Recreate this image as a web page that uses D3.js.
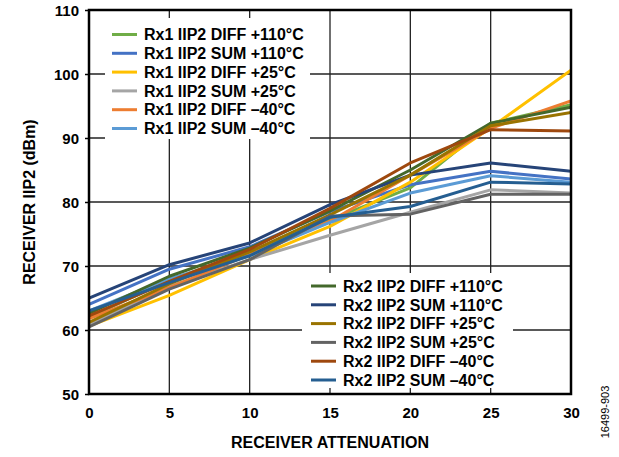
<!DOCTYPE html>
<html><head><meta charset="utf-8">
<script src="https://cdn.jsdelivr.net/npm/d3@7"></script>
<style>body{margin:0;background:#fff}svg{font-family:"Liberation Sans",Arial,sans-serif}</style>
</head><body>
<script>
const attenuation = [0, 5, 10, 15, 20, 25, 30];
const xTicks = [0, 5, 10, 15, 20, 25, 30];
const yTicks = [50, 60, 70, 80, 90, 100, 110];

const rx1Names = ["Rx1 IIP2 DIFF +110°C","Rx1 IIP2 SUM +110°C","Rx1 IIP2 DIFF +25°C","Rx1 IIP2 SUM +25°C","Rx1 IIP2 DIFF –40°C","Rx1 IIP2 SUM –40°C"];
const rx2Names = ["Rx2 IIP2 DIFF +110°C","Rx2 IIP2 SUM +110°C","Rx2 IIP2 DIFF +25°C","Rx2 IIP2 SUM +25°C","Rx2 IIP2 DIFF –40°C","Rx2 IIP2 SUM –40°C"];
const rx1Colors = ["#70AD47","#4472C4","#FFC000","#A5A5A5","#ED7D31","#5B9BD5"];
const rx2Colors = ["#43682B","#264478","#997300","#636363","#9E480E","#255E91"];

const rx1DiffP110 = [62.0, 67.8, 72.2, 77.2, 82.2, 92.3, 95.2];
const rx1SumP110  = [64.0, 69.5, 73.0, 78.5, 82.7, 84.8, 83.6];
const rx1DiffP25  = [60.6, 65.4, 71.0, 76.2, 83.1, 91.6, 100.6];
const rx1SumP25   = [60.8, 66.8, 71.0, 74.8, 78.4, 81.9, 81.4];
const rx1DiffM40  = [61.8, 66.6, 71.8, 77.0, 84.2, 91.5, 95.8];
const rx1SumM40   = [63.0, 68.0, 71.6, 76.8, 81.4, 84.1, 83.1];
const rx2DiffP110 = [62.6, 68.4, 72.8, 78.6, 85.0, 92.3, 94.8];
const rx2SumP110  = [65.0, 70.2, 73.6, 79.6, 84.2, 86.1, 84.8];
const rx2DiffP25  = [61.2, 67.2, 72.2, 78.0, 84.2, 91.9, 94.0];
const rx2SumP25   = [60.5, 66.4, 71.0, 77.8, 78.1, 81.2, 81.2];
const rx2DiffM40  = [62.2, 67.6, 72.6, 79.0, 86.1, 91.3, 91.1];
const rx2SumM40   = [63.0, 67.4, 71.6, 77.6, 79.3, 83.1, 82.8];

const rx1Series = [rx1DiffP110, rx1SumP110, rx1DiffP25, rx1SumP25, rx1DiffM40, rx1SumM40];
const rx2Series = [rx2DiffP110, rx2SumP110, rx2DiffP25, rx2SumP25, rx2DiffM40, rx2SumM40];

const W = 619, H = 457;
const m = {left: 89, right: 571, top: 10, bottom: 394};
const svg = d3.select("body").append("svg").attr("width", W).attr("height", H);
const x = d3.scaleLinear().domain([0, 30]).range([m.left, m.right]);
const y = d3.scaleLinear().domain([50, 110]).range([m.bottom, m.top]);

// gridlines
const g = svg.append("g");
g.selectAll(".gx").data(xTicks.slice(1, -1)).join("line")
  .attr("x1", d => x(d)).attr("x2", d => x(d)).attr("y1", m.top).attr("y2", m.bottom)
  .attr("stroke", "#222").attr("stroke-width", 1.3);
g.selectAll(".gy").data(yTicks.slice(1, -1)).join("line")
  .attr("x1", m.left).attr("x2", m.right).attr("y1", d => y(d)).attr("y2", d => y(d))
  .attr("stroke", "#222").attr("stroke-width", 1.3);

// axes
const xAxis = svg.append("g").attr("transform", `translate(0,${m.bottom + 2})`)
  .call(d3.axisBottom(x).tickValues(xTicks).tickSize(0).tickPadding(11));
const yAxis = svg.append("g").attr("transform", `translate(${m.left},0)`)
  .call(d3.axisLeft(y).tickValues(yTicks).tickSize(4).tickPadding(6));
[xAxis, yAxis].forEach(a => {
  a.select(".domain").remove();
  a.selectAll("text").attr("font-size", 15).attr("font-weight", "bold").attr("fill", "#000")
    .attr("font-family", "'Liberation Sans', Arial, sans-serif");
  a.selectAll("line").attr("stroke", "#000").attr("stroke-width", 1.5);
});
yAxis.selectAll("text").attr("dy", "0.35em");

// lines
const line = d3.line().x((d, i) => x(attenuation[i])).y(d => y(d));
const all = rx1Series.map((s, i) => ({s, c: rx1Colors[i]})).concat(rx2Series.map((s, i) => ({s, c: rx2Colors[i]})));
svg.append("clipPath").attr("id", "clp").append("rect")
  .attr("x", m.left).attr("y", m.top).attr("width", m.right - m.left).attr("height", m.bottom - m.top);
svg.append("g").attr("clip-path", "url(#clp)").selectAll("path").data(all).join("path")
  .attr("d", d => line(d.s)).attr("fill", "none").attr("stroke", d => d.c)
  .attr("stroke-width", 3).attr("stroke-linejoin", "round").attr("stroke-linecap", "round");

// legends
function legend(names, colors, bx, by, bw, bh, lx, ty, step) {
  const lg = svg.append("g");
  lg.append("rect").attr("x", bx).attr("y", by).attr("width", bw).attr("height", bh).attr("fill", "#fff");
  names.forEach((n, i) => {
    const yy = ty + i * step;
    lg.append("line").attr("x1", lx).attr("x2", lx + 25).attr("y1", yy).attr("y2", yy)
      .attr("stroke", colors[i]).attr("stroke-width", 3);
    lg.append("text").attr("x", lx + 32).attr("y", yy).attr("dy", "0.36em")
      .attr("font-size", 16).attr("font-weight", "bold").text(n);
  });
}
legend(rx1Names, rx1Colors, 105, 18, 205, 121, 112, 34.5, 18.8);
legend(rx2Names, rx2Colors, 302, 273, 211, 115, 311, 286, 18.8);

// frame
svg.append("rect").attr("x", m.left).attr("y", m.top).attr("width", m.right - m.left).attr("height", m.bottom - m.top)
  .attr("fill", "none").attr("stroke", "#000").attr("stroke-width", 2.5);

// titles
svg.append("text").attr("x", 330).attr("y", 448).attr("text-anchor", "middle")
  .attr("font-size", 16).attr("font-weight", "bold").text("RECEIVER ATTENUATION");
svg.append("text").attr("transform", `translate(35,${(m.top + m.bottom) / 2}) rotate(-90)`)
  .attr("text-anchor", "middle").attr("font-size", 16).attr("font-weight", "bold").text("RECEIVER IIP2 (dBm)");
svg.append("text").attr("transform", `translate(609,412) rotate(-90)`)
  .attr("text-anchor", "middle").attr("font-size", 11).text("16499-903");
</script>
</body></html>
